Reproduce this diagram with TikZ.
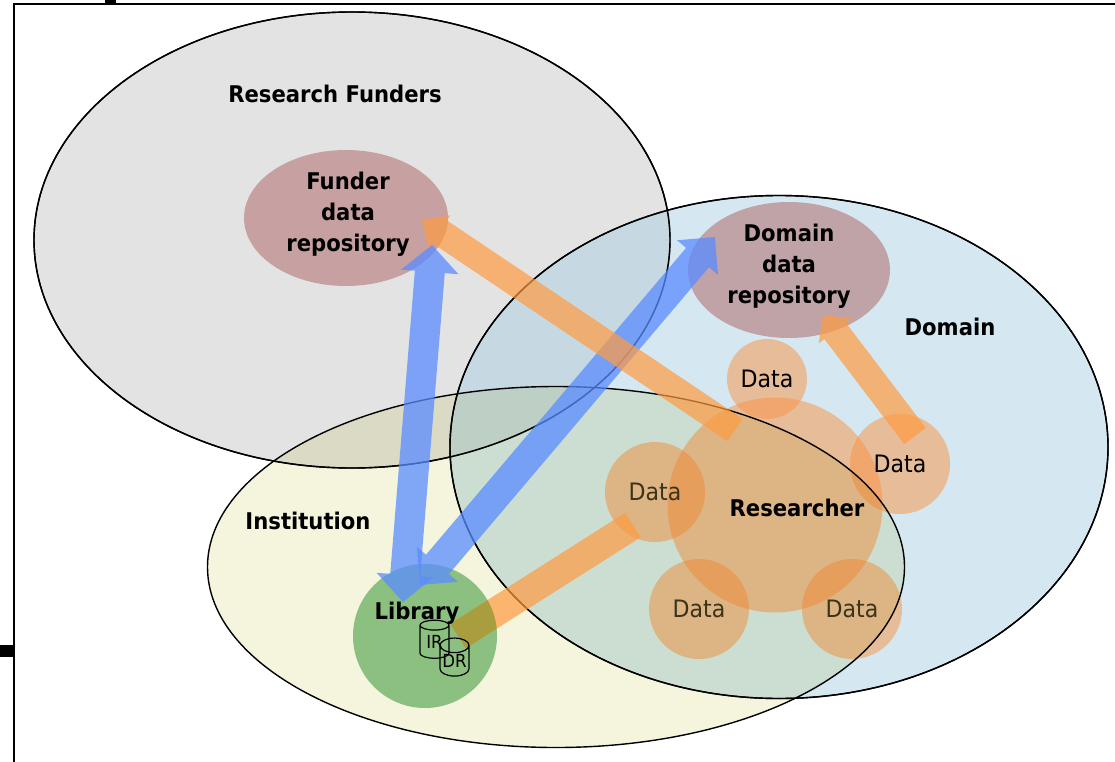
\documentclass[tikz,border=0pt]{standalone}
\usepackage{fontspec}
\setmainfont{DejaVu Sans}[FakeStretch=0.92]
\usetikzlibrary{arrows.meta,shapes.geometric}
\definecolor{funderfill}{RGB}{227,227,227}
\definecolor{domainfill}{RGB}{171,209,227}
\definecolor{instfill}{RGB}{245,245,222}
\definecolor{repofill}{RGB}{176,108,108}
\definecolor{datafill}{RGB}{250,145,65}
\definecolor{libfill}{RGB}{140,192,128}
\definecolor{bluearrow}{RGB}{90,140,255}
\definecolor{orangearrow}{RGB}{255,155,65}
\definecolor{olivebar}{RGB}{168,158,62}
\definecolor{dimtext}{RGB}{62,54,30}
\tikzset{
  region/.style={ellipse, inner sep=0pt, draw=black, line width=1.4pt},
  repo/.style={ellipse, inner sep=0pt, fill=repofill, fill opacity=0.55},
  datanode/.style={circle, inner sep=0pt, fill=datafill, fill opacity=0.5, text opacity=1, font=\fontsize{24}{24}\selectfont},
  label/.style={inner sep=0pt, align=center, font=\fontsize{23}{31}\selectfont\bfseries},
  blueflow/.style={draw=bluearrow, line width=30pt},
  orangeflow/.style={draw=orangearrow, line width=27pt},
  store/.style={cylinder, shape border rotate=90, aspect=0.6, draw=black, line width=1.2pt, inner sep=0pt, minimum width=29pt, minimum height=38pt, font=\fontsize{18}{18}\selectfont}
}
\begin{document}
\begin{tikzpicture}[x=1pt,y=-1pt]
    \useasboundingbox (0,0) rectangle (1115,762);
    \draw[line width=2pt] (14,762) -- (14,4) -- (1115,4);
    \fill (105,0) rectangle (116,4);
    \fill (0,645) rectangle (14,657);

    \node[region, fill=funderfill, minimum width=636pt, minimum height=456pt] (funders) at (352,240) {};
    \node[region, fill=domainfill, fill opacity=0.5, minimum width=658pt, minimum height=503pt] (domain) at (779,447) {};

    \node[repo, minimum width=204pt, minimum height=136pt] (funderrepo) at (346,218) {};
    \node[repo, minimum width=202pt, minimum height=136pt] (domainrepo) at (789,270) {};

    \node[circle, inner sep=0pt, fill=datafill, fill opacity=0.5, minimum size=215pt] (researcher) at (775,505) {};
    \node[datanode, minimum size=80pt] (dataa) at (767,379) {Data};
    \node[datanode, minimum size=100pt] (datab) at (900,464) {Data};
    \node[datanode, minimum size=100pt, text=dimtext] (datac) at (655,492) {Data};
    \node[datanode, minimum size=100pt, text=dimtext] (datad) at (699,609) {Data};
    \node[datanode, minimum size=100pt, text=dimtext] (datae) at (852,609) {Data};

    \begin{scope}[blend mode=multiply]
      \node[region, fill=instfill, minimum width=697pt, minimum height=361pt] (institution) at (556,567) {};
    \end{scope}
    \draw[line width=1.4pt] (funders.center) ellipse (318 and 228);
    \draw[line width=1.4pt] (domain.center) ellipse (329 and 251.5);

    \node[circle, inner sep=0pt, fill=libfill, minimum size=144pt] (library) at (425,636) {};

    \coordinate (libraryblue) at (403,602);
    \coordinate (funderblue) at (432,245);
    \coordinate (librarydomain) at (420,585);
    \coordinate (domainblue) at (715,237);
    \coordinate (researcherout) at (735,430);
    \coordinate (funderorange) at (422,220);
    \coordinate (datastart) at (915,436);
    \coordinate (domainorange) at (823,315);
    \coordinate (librarybar) at (458,636);
    \coordinate (databar) at (633,525);

    \begin{scope}[transparency group, opacity=0.75]
      \draw[blueflow, {Triangle[length=27pt,width=56pt]}-{Triangle[length=27pt,width=56pt]}] (libraryblue) -- (funderblue);
    \end{scope}
    \begin{scope}[transparency group, opacity=0.75]
      \draw[blueflow, {Triangle[length=27pt,width=52pt]}-{Triangle[length=27pt,width=52pt]}] (librarydomain) -- (domainblue);
    \end{scope}
    \begin{scope}[transparency group, opacity=0.7]
      \draw[orangeflow, -{Triangle[length=21pt,width=38pt]}] (researcherout) -- (funderorange);
    \end{scope}
    \begin{scope}[transparency group, opacity=0.7]
      \draw[orangeflow, -{Triangle[length=20pt,width=40pt]}] (datastart) -- (domainorange);
    \end{scope}
    \draw[orangeflow, opacity=0.7, line width=29pt] (librarybar) -- (databar);
    \begin{scope}
      \clip (library.center) circle (72);
      \draw[draw=olivebar, line width=29pt] (librarybar) -- (databar);
    \end{scope}

    \node[label] (funderslabel) at (335,94) {Research Funders};
    \node[label] (funderrepolabel) at (348,214) {Funder\\data\\repository};
    \node[label] (domainrepolabel) at (789,266) {Domain\\data\\repository};
    \node[label] (domainlabel) at (950,327) {Domain};
    \node[label] (institutionlabel) at (308,521) {Institution};
    \node[label] (researcherlabel) at (797,508) {Researcher};
    \node[label] (librarylabel) at (417,613) {Library};
    \node[store] (ir) at (434.5,642) {\raisebox{-3pt}{IR}};
    \node[store] (dr) at (454.5,661) {\raisebox{-4pt}{DR}};
\end{tikzpicture}
\end{document}
